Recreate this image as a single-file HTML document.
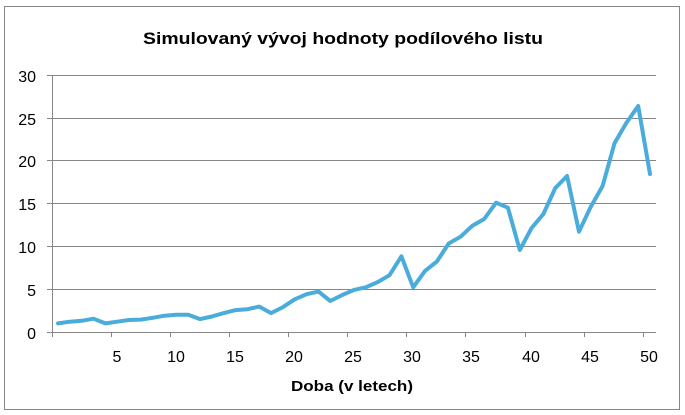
<!DOCTYPE html>
<html><head><meta charset="utf-8"><style>
html,body{margin:0;padding:0;background:#fff;}
svg{display:block;font-family:"Liberation Sans",sans-serif;}
</style></head><body>
<svg width="685" height="415" viewBox="0 0 685 415" xmlns="http://www.w3.org/2000/svg">
<rect x="4.5" y="6.5" width="675" height="403" fill="#fff" stroke="#868686" stroke-width="1"/>
<text x="343" y="44" text-anchor="middle" font-size="17" font-weight="bold" textLength="400" lengthAdjust="spacingAndGlyphs">Simulovaný vývoj hodnoty podílového listu</text>
<g stroke="#868686" stroke-width="1">
<line x1="47" y1="75.5" x2="656" y2="75.5"/>
<line x1="47" y1="118.5" x2="656" y2="118.5"/>
<line x1="47" y1="160.5" x2="656" y2="160.5"/>
<line x1="47" y1="203.5" x2="656" y2="203.5"/>
<line x1="47" y1="246.5" x2="656" y2="246.5"/>
<line x1="47" y1="289.5" x2="656" y2="289.5"/>
<line x1="47" y1="332.5" x2="656" y2="332.5"/>
<line x1="52.5" y1="75" x2="52.5" y2="337"/>
<line x1="111.5" y1="332" x2="111.5" y2="337"/>
<line x1="170.5" y1="332" x2="170.5" y2="337"/>
<line x1="229.5" y1="332" x2="229.5" y2="337"/>
<line x1="288.5" y1="332" x2="288.5" y2="337"/>
<line x1="347.5" y1="332" x2="347.5" y2="337"/>
<line x1="406.5" y1="332" x2="406.5" y2="337"/>
<line x1="465.5" y1="332" x2="465.5" y2="337"/>
<line x1="525.5" y1="332" x2="525.5" y2="337"/>
<line x1="584.5" y1="332" x2="584.5" y2="337"/>
<line x1="643.5" y1="332" x2="643.5" y2="337"/>
</g>
<g font-size="16" text-anchor="end" fill="#000">
<text x="36" y="82">30</text><text x="36" y="125">25</text><text x="36" y="167">20</text>
<text x="36" y="210">15</text><text x="36" y="253">10</text><text x="36" y="296">5</text><text x="36" y="339">0</text>
</g>
<g font-size="16" text-anchor="middle" fill="#000">
<text x="117" y="362">5</text><text x="176" y="362">10</text><text x="235" y="362">15</text>
<text x="294" y="362">20</text><text x="353" y="362">25</text><text x="412" y="362">30</text>
<text x="471" y="362">35</text><text x="531" y="362">40</text><text x="590" y="362">45</text><text x="649" y="362">50</text>
</g>
<text x="352" y="391" text-anchor="middle" font-size="15" font-weight="bold" textLength="122" lengthAdjust="spacingAndGlyphs">Doba (v letech)</text>
<polyline fill="none" stroke="#4aacdb" stroke-width="4" stroke-linejoin="round" stroke-linecap="round" points="
58,323.4 69.8,321.7 81.7,320.8 93.5,318.7 105.4,323.4 117.2,321.7 129,320 140.9,319.6 152.7,317.8
164.6,315.7 176.4,314.8 188.2,314.8 200.1,319.1 211.9,316.5 223.8,313.1 235.6,310.1 247.4,309.2
259.3,306.6 271.1,313.1 283,307.1 294.8,299.3 306.6,294.2 318.5,291.6 330.3,301 342.2,295 354,289.9
365.8,287.3 377.7,282.1 389.5,275.2 401.4,256.3 413.2,287.3 425,270.9 436.9,261.5 448.7,243.5
460.6,236.7 472.4,225.7 484.2,219 496.1,202.7 507.9,207.7 519.8,250 531.6,228 543.4,214 555.3,188
567.1,176 579,231.7 590.8,206.7 602.6,186 614.5,143.3 626.3,123 638.2,106 650,174"/>
</svg>
</body></html>
